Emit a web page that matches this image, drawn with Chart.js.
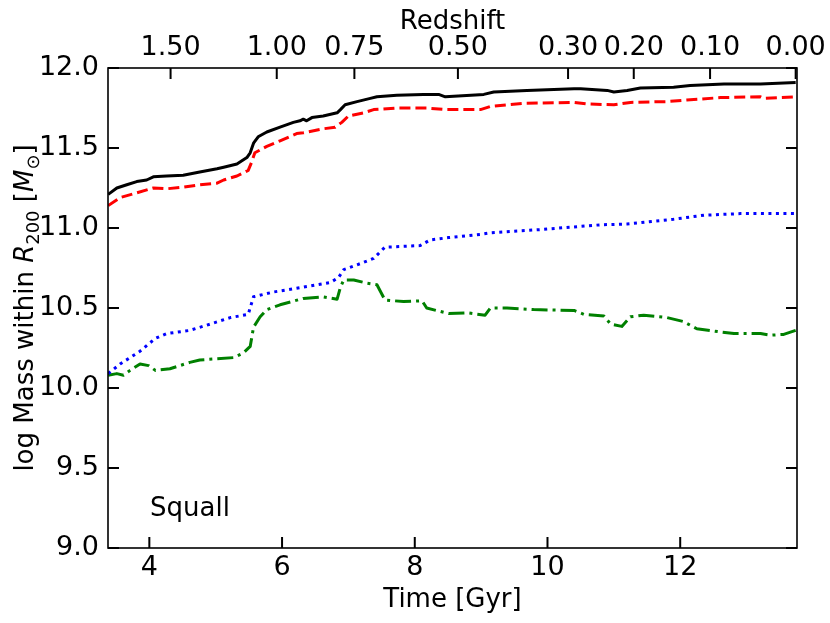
<!DOCTYPE html>
<html>
<head>
<meta charset="utf-8">
<script src="https://cdn.jsdelivr.net/npm/chart.js@4.4.1/dist/chart.umd.min.js"></script>
<style>
  html, body { margin: 0; padding: 0; background: #fff; }
  #wrap { width: 830px; height: 623px; }
</style>
</head>
<body>
<div id="wrap"><canvas id="massChart" width="830" height="623"></canvas></div>
<script>
// values (time in Gyr, log mass)
const totalTime = [3.38, 3.51, 3.66, 3.81, 3.96, 4.06, 4.26, 4.51, 4.76, 5.02, 5.12, 5.32, 5.47, 5.52, 5.57, 5.64, 5.77, 5.97, 6.17, 6.27, 6.32, 6.37, 6.45, 6.62, 6.83, 6.88, 6.95, 7.13, 7.33, 7.43, 7.73, 8.13, 8.36, 8.46, 9.04, 9.19, 9.69, 10.40, 10.50, 10.90, 11.00, 11.20, 11.40, 11.90, 12.15, 12.66, 13.21, 13.74];
const totalMass = [11.21, 11.25, 11.27, 11.29, 11.30, 11.32, 11.325, 11.33, 11.35, 11.37, 11.38, 11.40, 11.44, 11.47, 11.53, 11.57, 11.60, 11.63, 11.66, 11.67, 11.68, 11.67, 11.69, 11.70, 11.72, 11.74, 11.77, 11.79, 11.81, 11.82, 11.83, 11.835, 11.835, 11.82, 11.835, 11.85, 11.86, 11.87, 11.87, 11.86, 11.85, 11.86, 11.875, 11.88, 11.89, 11.90, 11.90, 11.91];

const darkTime = [3.38, 3.56, 3.81, 4.06, 4.26, 4.51, 4.76, 5.02, 5.12, 5.32, 5.49, 5.54, 5.59, 5.77, 5.97, 6.22, 6.32, 6.62, 6.80, 6.90, 7.00, 7.23, 7.38, 7.73, 8.18, 8.46, 8.99, 9.14, 9.64, 10.40, 10.60, 11.00, 11.25, 11.80, 12.10, 12.61, 13.21, 13.26, 13.74];
const darkMass = [11.14, 11.19, 11.22, 11.25, 11.245, 11.255, 11.27, 11.28, 11.30, 11.325, 11.36, 11.41, 11.47, 11.51, 11.545, 11.59, 11.595, 11.62, 11.63, 11.66, 11.70, 11.72, 11.74, 11.75, 11.75, 11.74, 11.74, 11.76, 11.78, 11.785, 11.775, 11.77, 11.785, 11.79, 11.80, 11.815, 11.82, 11.81, 11.82];

const starTime = [3.38, 3.56, 3.86, 4.09, 4.26, 4.61, 4.92, 5.22, 5.49, 5.57, 5.87, 6.32, 6.73, 6.85, 6.93, 7.13, 7.38, 7.55, 8.08, 8.23, 8.51, 8.99, 9.14, 9.89, 10.80, 11.20, 11.90, 12.36, 12.91, 13.41, 13.74];
const starMass = [10.09, 10.15, 10.23, 10.31, 10.34, 10.36, 10.40, 10.44, 10.46, 10.57, 10.60, 10.63, 10.66, 10.69, 10.74, 10.77, 10.81, 10.88, 10.89, 10.925, 10.94, 10.96, 10.97, 10.99, 11.02, 11.025, 11.055, 11.08, 11.09, 11.09, 11.09];

const gasTime = [3.38, 3.51, 3.61, 3.71, 3.86, 3.99, 4.09, 4.31, 4.61, 4.76, 5.27, 5.42, 5.52, 5.57, 5.67, 5.77, 5.97, 6.32, 6.62, 6.83, 6.88, 6.93, 7.08, 7.28, 7.43, 7.55, 7.83, 8.11, 8.18, 8.51, 8.79, 9.06, 9.14, 9.39, 9.79, 10.40, 10.55, 10.85, 10.95, 11.12, 11.25, 11.45, 11.80, 12.05, 12.25, 12.61, 12.81, 13.21, 13.36, 13.56, 13.74];
const gasMass = [10.08, 10.09, 10.08, 10.11, 10.15, 10.14, 10.11, 10.12, 10.16, 10.175, 10.19, 10.22, 10.26, 10.38, 10.445, 10.49, 10.52, 10.56, 10.57, 10.555, 10.63, 10.675, 10.675, 10.655, 10.645, 10.55, 10.54, 10.545, 10.50, 10.465, 10.47, 10.455, 10.50, 10.50, 10.49, 10.485, 10.46, 10.45, 10.40, 10.385, 10.445, 10.455, 10.44, 10.415, 10.37, 10.35, 10.34, 10.34, 10.33, 10.335, 10.36];

const timeTicks = [4, 6, 8, 10, 12];
const massTicks = [9.0, 9.5, 10.0, 10.5, 11.0, 11.5, 12.0];
const redshiftLabels = ['1.50', '1.00', '0.75', '0.50', '0.30', '0.20', '0.10', '0.00'];
const redshiftTimes = [4.32, 5.92, 7.09, 8.65, 10.31, 11.30, 12.45, 13.74];

const FONT = '"DejaVu Sans", "Liberation Sans", sans-serif';

function points(xs, ys) {
    return xs.map((x, i) => ({ x: x, y: ys[i] }));
}

function line(xs, ys, color, dash) {
    return {
        data: points(xs, ys),
        borderColor: color,
        borderWidth: 3,
        borderDash: dash,
        borderJoinStyle: 'round',
        pointRadius: 0,
        tension: 0,
        fill: false
    };
}

// no label overhang padding, the frame is placed by hand
function noOverhang(scale) {
    scale.paddingLeft = 0;
    scale.paddingRight = 0;
}

// frame, inward ticks, panel label and the y title with sub/italic parts
const decorations = {
    id: 'decorations',
    afterDatasetsDraw: function (chart) {
        const ctx = chart.ctx;
        const a = chart.chartArea;
        const s = chart.scales;
        const len = 11;

        ctx.save();
        ctx.strokeStyle = '#000';
        ctx.lineWidth = 1.6;
        ctx.strokeRect(a.left, a.top, a.right - a.left, a.bottom - a.top);

        ctx.lineWidth = 2;
        ctx.beginPath();
        s.x.ticks.forEach(function (t) {
            const px = s.x.getPixelForValue(t.value);
            ctx.moveTo(px, a.bottom); ctx.lineTo(px, a.bottom - len);
        });
        s.x2.ticks.forEach(function (t) {
            const px = s.x2.getPixelForValue(t.value);
            ctx.moveTo(px, a.top); ctx.lineTo(px, a.top + len);
        });
        s.y.ticks.forEach(function (t) {
            const py = s.y.getPixelForValue(t.value);
            ctx.moveTo(a.left, py); ctx.lineTo(a.left + len, py);
            ctx.moveTo(a.right, py); ctx.lineTo(a.right - len, py);
        });
        ctx.stroke();

        ctx.fillStyle = '#000';
        ctx.textBaseline = 'alphabetic';
        ctx.textAlign = 'left';
        ctx.font = '26px ' + FONT;
        ctx.fillText('Squall', a.left + 42, a.bottom - 32);

        const parts = [
            { text: 'log Mass within ', font: '26px ' + FONT, dy: 0 },
            { text: 'R', font: 'italic 26px ' + FONT, dy: 0 },
            { text: '200', font: '18px ' + FONT, dy: 6 },
            { text: ' [', font: '26px ' + FONT, dy: 0 },
            { text: 'M', font: 'italic 26px ' + FONT, dy: 0 },
            { text: '\u2299', font: '18px ' + FONT, dy: 6 },
            { text: ']', font: '26px ' + FONT, dy: 0 }
        ];
        let total = 0;
        parts.forEach(function (p) { ctx.font = p.font; p.w = ctx.measureText(p.text).width; total += p.w; });
        ctx.translate(33, (a.top + a.bottom) / 2);
        ctx.rotate(-Math.PI / 2);
        let cx = -total / 2;
        parts.forEach(function (p) {
            ctx.font = p.font;
            ctx.fillText(p.text, cx, p.dy);
            cx += p.w;
        });
        ctx.restore();
    }
};

new Chart(document.getElementById('massChart'), {
    type: 'line',
    data: {
        datasets: [
            line(totalTime, totalMass, '#000000', []),
            line(darkTime, darkMass, '#ff0000', [11, 5]),
            line(starTime, starMass, '#0000ff', [3, 4.5]),
            line(gasTime, gasMass, '#008000', [16, 5, 3, 5])
        ]
    },
    plugins: [decorations],
    options: {
        responsive: false,
        animation: false,
        devicePixelRatio: 1,
        layout: { padding: { left: 0, right: 33, top: 0, bottom: 0 } },
        plugins: { legend: { display: false }, tooltip: { enabled: false } },
        scales: {
            x: {
                type: 'linear',
                position: 'bottom',
                min: 3.377,
                max: 13.76,
                afterBuildTicks: function (scale) { scale.ticks = timeTicks.map(function (v) { return { value: v }; }); },
                afterFit: function (scale) { scale.height = 75; noOverhang(scale); },
                grid: { display: false, drawTicks: false },
                border: { display: false },
                ticks: { color: '#000', font: { family: FONT, size: 27 }, padding: 4, maxRotation: 0, autoSkip: false,
                         callback: function (v) { return String(v); } },
                title: { display: true, text: 'Time [Gyr]', color: '#000', font: { family: FONT, size: 26 }, padding: { top: 0, bottom: 7 } }
            },
            x2: {
                type: 'linear',
                position: 'top',
                min: 3.377,
                max: 13.76,
                afterBuildTicks: function (scale) { scale.ticks = redshiftTimes.map(function (v) { return { value: v }; }); },
                afterFit: function (scale) { scale.height = 68; noOverhang(scale); },
                grid: { display: false, drawTicks: false },
                border: { display: false },
                ticks: { color: '#000', font: { family: FONT, size: 27 }, padding: 4, maxRotation: 0, autoSkip: false,
                         callback: function (v, i) { return redshiftLabels[i]; } },
                title: { display: true, text: 'Redshift', color: '#000', font: { family: FONT, size: 26 }, padding: { top: 7, bottom: 0 } }
            },
            y: {
                type: 'linear',
                position: 'left',
                min: 9,
                max: 12,
                afterBuildTicks: function (scale) { scale.ticks = massTicks.map(function (v) { return { value: v }; }); },
                afterFit: function (scale) { scale.width = 108; },
                grid: { display: false, drawTicks: false },
                border: { display: false },
                ticks: { color: '#000', font: { family: FONT, size: 27 }, padding: 9,
                         callback: function (v) { return Number(v).toFixed(1); } },
                title: { display: false }
            }
        }
    }
});
</script>
</body>
</html>
